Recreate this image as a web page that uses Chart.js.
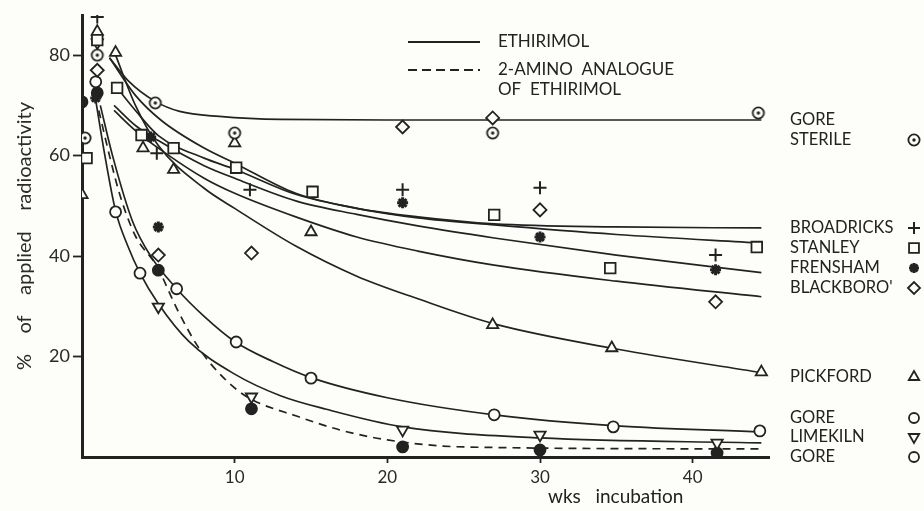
<!DOCTYPE html>
<html>
<head>
<meta charset="utf-8">
<script src="https://cdn.jsdelivr.net/npm/chart.js@4.4.1/dist/chart.umd.min.js"></script>
<style>
  html, body { margin: 0; background: #fdfdf9; }
  #wrap { width: 924px; height: 511px; }
</style>
</head>
<body>
<div id="wrap"><canvas id="chart"></canvas></div>
<script>
// --- measured points (weeks, % of applied radioactivity) ---
const sterileX = [0.2, 1, 4.8, 10, 26.9, 44.3];
const sterileY = [63.5, 80, 70.5, 64.5, 64.5, 68.5];
const broadX = [1, 4.9, 11, 21, 30, 41.5];
const broadY = [87.6, 60.5, 53.2, 53.2, 53.6, 40.2];
const stanleyX = [0.3, 1, 2.3, 3.9, 6, 10.1, 15.1, 27, 34.6, 44.2];
const stanleyY = [59.5, 83, 73.5, 64.1, 61.5, 57.6, 52.8, 48.2, 37.6, 41.8];
const frenshamX = [0.9, 4.5, 5, 21, 30, 41.5];
const frenshamY = [71.5, 63.7, 45.8, 50.6, 43.8, 37.3];
const blackX = [1, 5, 11.1, 21, 26.9, 30, 41.5];
const blackY = [77, 40.2, 40.6, 65.7, 67.5, 49.2, 30.9];
const pickX = [0, 1, 2.2, 4, 6, 10, 15, 26.9, 34.7, 44.5];
const pickY = [52.2, 84.7, 80.5, 61.5, 57.2, 62.5, 44.8, 26.3, 21.7, 16.9];
const goreX = [0.9, 2.2, 3.8, 6.2, 10.1, 15, 27, 34.8, 44.4];
const goreY = [74.7, 48.8, 36.6, 33.5, 22.9, 15.7, 8.4, 6, 5.2];
const limeX = [1, 5, 11.1, 21, 30, 41.6];
const limeY = [82.5, 29.9, 12, 5.4, 4.4, 2.8];
const aminoX = [0, 1, 5, 11.1, 21, 30, 41.6];
const aminoY = [70.7, 72.5, 37.2, 9.6, 2, 1.4, 0.8];

// --- fitted curves ---
const cSterileX = [1.8, 3, 4.8, 6.4, 9, 13, 20, 30, 44.5];
const cSterileY = [79.5, 75, 70.8, 68.8, 67.8, 67.2, 67.1, 67.1, 67.1];
const cBroadX = [1.8, 3.5, 5.2, 8, 10, 14, 18, 22, 27, 35, 44.5];
const cBroadY = [79.5, 72, 67, 61.5, 58.5, 52.5, 49.5, 47.8, 46.4, 45.8, 45.6];
const cStanleyX = [2.3, 3.5, 5, 8, 10, 14, 18, 22, 27, 35, 44.5];
const cStanleyY = [73.5, 69, 64, 59.5, 57.3, 52.3, 49.5, 47.6, 46.2, 44.3, 42.6];
const cFrenshamX = [2.1, 3.5, 5, 8, 10, 14, 18, 22, 27, 35, 44.5];
const cFrenshamY = [70, 66, 63, 58, 55.5, 51, 48.3, 46, 43.6, 40.2, 36.7];
const cBlackX = [2.1, 3.5, 5, 8, 10, 14, 18, 22, 27, 35, 44.5];
const cBlackY = [69, 65, 61.5, 55.5, 52.5, 47.8, 43.8, 41, 38.2, 35, 31.9];
const cPickX = [2.2, 3.5, 5, 8, 10, 14, 18, 22, 27, 35, 44.5];
const cPickY = [80, 70, 62, 53.5, 49.5, 42, 36, 31.5, 26.5, 21.5, 16.8];
const cGoreX = [1.2, 2, 3.3, 4.5, 6.2, 8, 10, 12.5, 15, 20, 27, 35, 44.5];
const cGoreY = [70, 60, 47, 40, 33.5, 28, 23, 19, 15.8, 11.8, 8.4, 6.2, 5];
const cLimeX = [0.9, 1.5, 2.2, 3, 3.8, 5, 7, 10, 13, 16, 21, 30, 44.5];
const cLimeY = [71, 60, 49, 42, 36.6, 30.5, 23, 16.5, 12.2, 9.5, 6, 3.8, 2.8];
const cAminoX = [1.1, 1.8, 2.5, 3.5, 4.9, 6.3, 7.7, 9.2, 10.8, 14.2, 17, 20, 25, 44.5];
const cAminoY = [69, 60, 52, 44, 38, 29, 21.5, 16, 12, 8, 5.3, 3.4, 2, 1.6];

const xTicks = [10, 20, 30, 40];
const yTicks = [20, 40, 60, 80];

const INK = '#222';
const BG = '#fdfdf9';
const FONT = 'Lato, "Open Sans", sans-serif';

const pt = (xs, ys) => xs.map((x, i) => ({ x, y: ys[i] }));

// ⊙ marker
function dotCircle() {
  const c = document.createElement('canvas');
  c.width = c.height = 16;
  const g = c.getContext('2d');
  g.fillStyle = BG; g.strokeStyle = INK; g.lineWidth = 1.8;
  g.beginPath(); g.arc(8, 8, 5.6, 0, Math.PI * 2); g.fill(); g.stroke();
  g.fillStyle = INK;
  g.beginPath(); g.arc(8, 8, 1.7, 0, Math.PI * 2); g.fill();
  return c;
}
const DOT = dotCircle();

// marker sizes per style
const SIZE = { cross: 6.5, rect: 7.5, star: 5.5, rectRot: 6.5, triangle: 6.5, circle: 5.5 };
const WIDTH = { cross: 2, star: 3 };

const marker = (label, xs, ys, style, extra) => Object.assign({
  label, data: pt(xs, ys), showLine: false, order: 1,
  pointStyle: style, pointRadius: SIZE[style] || 6, borderWidth: WIDTH[style] || 1.8,
  borderColor: INK, backgroundColor: BG,
}, extra || {});

const curve = (xs, ys, dash) => ({
  data: pt(xs, ys), showLine: true, order: 2, pointRadius: 0,
  borderColor: INK, borderWidth: 1.7, borderDash: dash || [],
  cubicInterpolationMode: 'monotone', fill: false,
});

const datasets = [
  marker('GORE STERILE', sterileX, sterileY, DOT),
  marker('BROADRICKS', broadX, broadY, 'cross'),
  marker('STANLEY', stanleyX, stanleyY, 'rect'),
  marker('FRENSHAM', frenshamX, frenshamY, 'star'),
  marker("BLACKBORO'", blackX, blackY, 'rectRot'),
  marker('PICKFORD', pickX, pickY, 'triangle'),
  marker('GORE', goreX, goreY, 'circle'),
  marker('LIMEKILN', limeX, limeY, 'triangle', { rotation: 180 }),
  marker('GORE (2-amino)', aminoX, aminoY, 'circle', { backgroundColor: INK }),
  curve(cSterileX, cSterileY),
  curve(cBroadX, cBroadY),
  curve(cStanleyX, cStanleyY),
  curve(cFrenshamX, cFrenshamY),
  curve(cBlackX, cBlackY),
  curve(cPickX, cPickY),
  curve(cGoreX, cGoreY),
  curve(cLimeX, cLimeY),
  curve(cAminoX, cAminoY, [8, 6]),
];

// legend + site labels drawn beside the plot
const sideLabels = [
  { t: 'GORE', y: 120 },
  { t: 'STERILE', y: 140, s: DOT },
  { t: 'BROADRICKS', y: 228, s: 'cross' },
  { t: 'STANLEY', y: 248, s: 'rect' },
  { t: 'FRENSHAM', y: 268, s: 'star' },
  { t: "BLACKBORO'", y: 288, s: 'rectRot' },
  { t: 'PICKFORD', y: 377, s: 'triangle' },
  { t: 'GORE', y: 418, s: 'circle' },
  { t: 'LIMEKILN', y: 437, s: 'triangle', rot: 180 },
  { t: 'GORE', y: 457, s: 'circle' },
];

const annotations = {
  id: 'annotations',
  afterDraw(chart) {
    const ctx = chart.ctx;
    ctx.save();
    ctx.strokeStyle = INK; ctx.fillStyle = INK; ctx.lineWidth = 1.8;
    ctx.beginPath(); ctx.moveTo(408, 42); ctx.lineTo(480, 42); ctx.stroke();
    ctx.setLineDash([9, 5]);
    ctx.beginPath(); ctx.moveTo(408, 70); ctx.lineTo(480, 70); ctx.stroke();
    ctx.setLineDash([]);
    ctx.font = '17px ' + FONT;
    ctx.textBaseline = 'middle';
    ctx.fillText('ETHIRIMOL', 498, 42);
    ctx.fillText('2-AMINO  ANALOGUE', 498, 70);
    ctx.fillText('OF  ETHIRIMOL', 498, 90);
    ctx.font = '19px ' + FONT;
    ctx.fillText('wks   incubation', 548, 497);
    ctx.font = '16.5px ' + FONT;
    sideLabels.forEach((l) => {
      ctx.fillStyle = INK;
      ctx.fillText(l.t, 790, l.y);
      if (l.s) {
        ctx.fillStyle = BG; ctx.strokeStyle = INK;
        ctx.lineWidth = WIDTH[l.s] || 1.8;
        Chart.helpers.drawPoint(ctx, {
          pointStyle: l.s, radius: (SIZE[l.s] || 6) - 0.5, rotation: l.rot || 0,
          borderWidth: WIDTH[l.s] || 1.8,
        }, 914, l.y);
      }
    });
    ctx.restore();
  },
};

new Chart(document.getElementById('chart'), {
  type: 'scatter',
  data: { datasets },
  plugins: [annotations],
  options: {
    responsive: true, maintainAspectRatio: false,
    animation: false,
    layout: { padding: { top: 15, right: 155, left: 0, bottom: 0 } },
    plugins: { legend: { display: false }, tooltip: { enabled: false } },
    scales: {
      x: {
        type: 'linear', min: 0, max: 45,
        afterBuildTicks: (s) => { s.ticks = xTicks.map((v) => ({ value: v })); },
        afterFit: (s) => { s.height = 54; },
        grid: { drawOnChartArea: false, drawTicks: true, tickLength: 6, tickWidth: 1.8, tickColor: INK },
        border: { color: INK, width: 3 },
        ticks: { color: '#2a2a2a', font: { family: FONT, size: 17 }, padding: 4, maxRotation: 0 },
      },
      y: {
        type: 'linear', min: 0, max: 88,
        afterBuildTicks: (s) => { s.ticks = yTicks.map((v) => ({ value: v })); },
        afterFit: (s) => { s.width = 82; },
        grid: { drawOnChartArea: false, drawTicks: true, tickLength: 9, tickWidth: 1.8, tickColor: INK },
        border: { color: INK, width: 3 },
        ticks: { color: '#2a2a2a', font: { family: FONT, size: 18 }, padding: 3 },
        title: {
          display: true, text: '%    of    applied    radioactivity', color: '#2a2a2a',
          font: { family: FONT, size: 20 }, padding: { top: 13 },
        },
      },
    },
  },
});
</script>
</body>
</html>
